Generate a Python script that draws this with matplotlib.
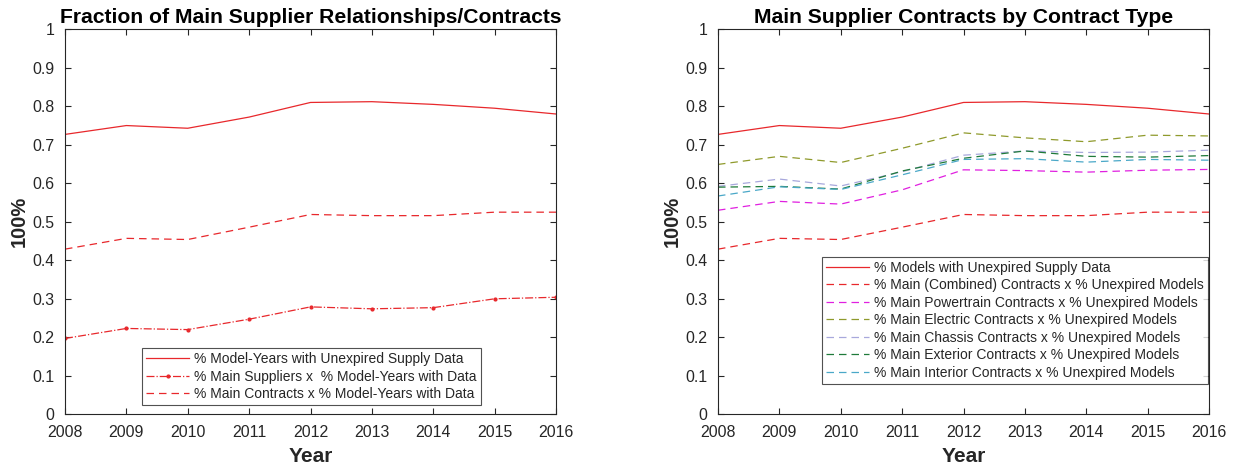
import matplotlib.pyplot as plt

years = [2008, 2009, 2010, 2011, 2012, 2013, 2014, 2015, 2016]

# left panel
unexpired = [0.727, 0.750, 0.743, 0.772, 0.810, 0.812, 0.805, 0.795, 0.780]
main_suppliers = [0.197, 0.223, 0.220, 0.247, 0.279, 0.274, 0.277, 0.300, 0.304]
main_contracts = [0.429, 0.457, 0.454, 0.486, 0.519, 0.516, 0.516, 0.525, 0.525]

# right panel, by contract type
powertrain = [0.530, 0.553, 0.546, 0.583, 0.635, 0.633, 0.629, 0.634, 0.636]
electric = [0.649, 0.670, 0.654, 0.691, 0.731, 0.718, 0.708, 0.725, 0.723]
chassis = [0.592, 0.611, 0.593, 0.630, 0.673, 0.684, 0.680, 0.681, 0.686]
exterior = [0.590, 0.592, 0.585, 0.632, 0.665, 0.684, 0.670, 0.668, 0.672]
interior = [0.567, 0.591, 0.584, 0.622, 0.662, 0.664, 0.655, 0.662, 0.660]

yticks = [0, 0.1, 0.2, 0.3, 0.4, 0.5, 0.6, 0.7, 0.8, 0.9, 1]
yticklabels = ['0', '0.1', '0.2', '0.3', '0.4', '0.5', '0.6', '0.7', '0.8', '0.9', '1']

plt.rcParams['font.family'] = ['Liberation Sans', 'DejaVu Sans']

RED = '#e8282c'
DARK = '#262626'
W, H = 1234, 469
AX_W, AX_H = 491 / W, 385 / H


def style_axes(ax, title):
    ax.set_xlim(2008, 2016)
    ax.set_ylim(0, 1)
    ax.set_xticks(years)
    ax.set_xticklabels([str(y) for y in years])
    ax.set_yticks(yticks)
    ax.set_yticklabels(yticklabels)
    ax.tick_params(direction='in', top=True, right=True, length=4, labelsize=11.4,
                   colors=DARK, labelcolor=DARK, width=0.8)
    ax.tick_params(axis='x', pad=7.5)
    ax.tick_params(axis='y', pad=7.5)
    for s in ax.spines.values():
        s.set_color(DARK)
        s.set_linewidth(0.8)
    ax.set_title(title, fontsize=15.2, fontweight='bold', pad=4.8)
    ax.set_xlabel('Year', fontsize=15, fontweight='bold', color=DARK)
    ax.set_ylabel('100%', fontsize=14.5, fontweight='bold', color=DARK)
    ax.xaxis.set_label_coords(0.5, -0.086)
    ax.yaxis.set_label_coords(-0.073, 0.5)


def add_legend(ax, anchor):
    leg = ax.legend(loc='lower left', bbox_to_anchor=anchor, fontsize=10,
                    frameon=True, fancybox=False, edgecolor=DARK, handlelength=3.1,
                    handletextpad=0.36, borderpad=0.3, labelspacing=0.25,
                    borderaxespad=0)
    leg.get_frame().set_linewidth(0.8)
    for t in leg.get_texts():
        t.set_color(DARK)
    return leg


fig = plt.figure(figsize=(W / 100, H / 100), dpi=100)

ax1 = fig.add_axes([65 / W, (H - 414.3) / H, AX_W, AX_H])
ax1.plot(years, unexpired, color=RED, lw=0.9, label='% Model-Years with Unexpired Supply Data')
ax1.plot(years, main_suppliers, color=RED, lw=0.9, ls='-.', marker='.', ms=4,
         label='% Main Suppliers x  % Model-Years with Data')
ax1.plot(years, main_contracts, color=RED, lw=0.9, ls=(0, (6, 4)),
         label='% Main Contracts x % Model-Years with Data')
style_axes(ax1, 'Fraction of Main Supplier Relationships/Contracts')
add_legend(ax1, (0.157, 0.023))

ax2 = fig.add_axes([718 / W, (H - 414.3) / H, AX_W, AX_H])
dash = (0, (6, 4))
ax2.plot(years, unexpired, color=RED, lw=0.9, label='% Models with Unexpired Supply Data')
ax2.plot(years, main_contracts, color=RED, lw=0.9, ls=dash,
         label='% Main (Combined) Contracts x % Unexpired Models')
ax2.plot(years, powertrain, color='#e020e0', lw=0.9, ls=dash,
         label='% Main Powertrain Contracts x % Unexpired Models')
ax2.plot(years, electric, color='#8f9a2c', lw=0.9, ls=dash,
         label='% Main Electric Contracts x % Unexpired Models')
ax2.plot(years, chassis, color='#a8a8dc', lw=0.9, ls=dash,
         label='% Main Chassis Contracts x % Unexpired Models')
ax2.plot(years, exterior, color='#1f7a3a', lw=0.9, ls=dash,
         label='% Main Exterior Contracts x % Unexpired Models')
ax2.plot(years, interior, color='#4aa8c8', lw=0.9, ls=dash,
         label='% Main Interior Contracts x % Unexpired Models')
style_axes(ax2, 'Main Supplier Contracts by Contract Type')
add_legend(ax2, (0.212, 0.079))

fig.savefig('out.png', dpi=100)
